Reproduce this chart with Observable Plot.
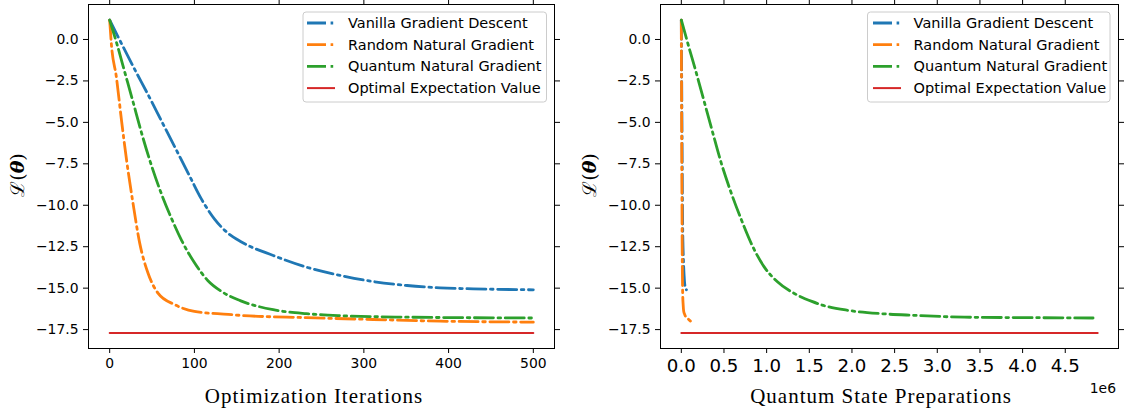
<!DOCTYPE html>
<html>
<head>
<meta charset="utf-8">
<script src="https://cdn.jsdelivr.net/npm/d3@7"></script>
<script src="https://cdn.jsdelivr.net/npm/@observablehq/plot@0.6"></script>
<style>
  html, body { margin: 0; padding: 0; background: #fff; }
  #wrap { display: flex; width: 1124px; height: 412px; overflow: hidden; }
  #wrap svg { overflow: visible; display: block; }
</style>
</head>
<body>
<div id="wrap"></div>
<script>
// ---------- data ----------
const seriesNames = ["Vanilla Gradient Descent", "Random Natural Gradient", "Quantum Natural Gradient", "Optimal Expectation Value"];
const seriesColors = ["#1f77b4", "#ff7f0e", "#2ca02c", "#d62728"];

const iterTicks = [0, 100, 200, 300, 400, 500];
const prepTicks = [0, 500000, 1000000, 1500000, 2000000, 2500000, 3000000, 3500000, 4000000, 4500000];
const lossTicks = [0, -2.5, -5, -7.5, -10, -12.5, -15, -17.5];

// left panel: loss vs optimization iterations
const vanillaByIter = [[0,1.17],[9,0.25],[30,-1.85],[45,-3.3],[61,-4.9],[77,-6.5],[93,-8.1],[108,-9.6],[124,-10.85],[140,-11.7],[155,-12.2],[193,-13.03],[232,-13.73],[272,-14.23],[311,-14.6],[351,-14.84],[390,-14.98],[429,-15.04],[500,-15.1]];
const randomByIter = [[0,1.17],[2,-0.28],[8,-2.3],[14,-4.9],[20,-7.3],[27.6,-9.9],[35.5,-12.3],[45.3,-14.1],[57,-15.3],[77,-16.0],[100,-16.4],[140,-16.58],[154,-16.64],[232,-16.78],[311,-16.89],[390,-16.99],[500,-17.05]];
const quantumByIter = [[0,1.17],[9,-0.35],[17.7,-1.95],[27.5,-3.75],[37.4,-5.6],[49.3,-7.6],[61,-9.3],[73,-10.8],[84.7,-12.1],[100.5,-13.5],[116,-14.55],[132,-15.2],[154,-15.75],[193,-16.3],[232,-16.54],[272,-16.66],[351,-16.75],[500,-16.8]];
const optimalByIter = [[0,-17.7],[500,-17.7]];

// right panel: loss vs quantum state preparations
const vanillaByPrep = [[0,1.17],[1080,0.25],[3600,-1.85],[5400,-3.3],[7320,-4.9],[9240,-6.5],[11160,-8.1],[12960,-9.6],[14880,-10.85],[16800,-11.7],[18600,-12.2],[23160,-13.03],[27840,-13.73],[32640,-14.23],[37320,-14.6],[42120,-14.84],[46800,-14.98],[51480,-15.04],[60000,-15.1]];
const randomByPrep = [[0,1.17],[560,-0.28],[2240,-2.3],[3920,-4.9],[5600,-7.3],[7730,-9.9],[9940,-12.3],[12680,-14.1],[15960,-15.3],[21560,-16.0],[28000,-16.4],[39200,-16.58],[43120,-16.64],[64960,-16.78],[87080,-16.89],[109200,-16.99],[140000,-17.05]];
const quantumByPrep = [[0,1.17],[77000,-0.25],[174000,-1.99],[271000,-3.8],[367000,-5.6],[465000,-7.4],[581000,-9.2],[698000,-10.8],[833000,-12.45],[969000,-13.7],[1123000,-14.6],[1317000,-15.3],[1530000,-15.8],[1650000,-16.02],[1957000,-16.34],[2344000,-16.54],[2733000,-16.64],[3314000,-16.75],[4088000,-16.78],[4826000,-16.8]];
const optimalByPrep = [[0,-17.7],[4880000,-17.7]];

// ---------- drawing ----------
const DASH = "19,4.6,2.6,4.6";
const LW = 2.8;
const fmt1 = d3.format(".1f");

function makePanel(cfg) {
  const lineMarks = cfg.series.map((data, i) => Plot.line(data, {
    x: d => d[0], y: d => d[1],
    stroke: seriesColors[i],
    strokeWidth: i === 3 ? 2 : LW,
    strokeDasharray: i === 3 ? null : DASH,
    curve: "monotone-x"
  }));
  const svg = Plot.plot({
    width: cfg.width, height: 412,
    marginLeft: cfg.marginLeft, marginRight: cfg.marginRight, marginTop: 4, marginBottom: 64,
    style: { fontFamily: "DejaVu Sans", fontSize: "13.9px", color: "#000", background: "transparent", overflow: "visible" },
    x: { domain: cfg.xDomain },
    y: { domain: [-18.64, 2.11] },
    marks: [
      Plot.axisX({ ticks: cfg.xTicks, tickFormat: cfg.xTickFormat, tickSize: 5, tickPadding: cfg.xTickPadding, label: null }),
      Plot.axisX({ anchor: "top", ticks: cfg.xTicks, tickFormat: () => "", tickSize: 5, label: null }),
      Plot.axisY({ ticks: lossTicks, tickFormat: fmt1, tickSize: 5, tickPadding: 5, label: null }),
      Plot.axisY({ anchor: "right", ticks: lossTicks, tickFormat: () => "", tickSize: 5, label: null }),
      ...lineMarks,
      Plot.frame({ stroke: "#000", strokeWidth: 1 })
    ]
  });
  const s = d3.select(svg);
  s.selectAll('g[aria-label="x-axis tick label"] text').attr("font-size", cfg.xTickFontSize);

  // x label
  s.append("text")
    .attr("x", cfg.xLabelX).attr("y", 403)
    .attr("text-anchor", "middle")
    .attr("font-family", "Liberation Serif, DejaVu Serif, serif")
    .attr("font-size", 21).attr("letter-spacing", 1).attr("fill", "#000")
    .text(cfg.xLabel);

  // y label  L(theta)
  const yl = s.append("text")
    .attr("transform", `translate(${cfg.yLabelX},175) rotate(-90)`)
    .attr("text-anchor", "middle")
    .attr("font-family", "DejaVu Serif, serif")
    .attr("font-size", 19).attr("fill", "#000");
  yl.append("tspan").text("ℒ");
  yl.append("tspan").text("(");
  yl.append("tspan").attr("font-weight", "bold").attr("font-style", "italic").text("θ");
  yl.append("tspan").text(")");

  if (cfg.offsetText) {
    s.append("text").attr("x", cfg.width - 8).attr("y", 393).attr("text-anchor", "end")
      .attr("font-family", "DejaVu Sans").attr("font-size", 13.9).attr("fill", "#000")
      .text(cfg.offsetText);
  }

  // legend
  const L = cfg.legend;
  const g = s.append("g").attr("text-anchor", "start");
  g.append("rect").attr("x", L.x0).attr("y", 12).attr("width", L.w).attr("height", 90)
    .attr("rx", 3).attr("fill", "#fff").attr("fill-opacity", 0.8).attr("stroke", "#cccccc").attr("stroke-width", 1);
  seriesNames.forEach((name, i) => {
    const yy = 23 + i * 21.7;
    g.append("line").attr("x1", L.sx).attr("x2", L.sx + 28).attr("y1", yy).attr("y2", yy)
      .attr("stroke", seriesColors[i]).attr("stroke-width", i === 3 ? 2 : LW)
      .attr("stroke-dasharray", i === 3 ? null : DASH);
    g.append("text").attr("x", L.tx).attr("y", yy).attr("dy", "0.35em")
      .attr("text-anchor", "start")
      .attr("font-family", "DejaVu Sans").attr("font-size", 14.5).attr("fill", "#000")
      .text(name);
  });
  return svg;
}

const wrap = document.getElementById("wrap");
wrap.appendChild(makePanel({
  width: 560, marginLeft: 88, marginRight: 6,
  xDomain: [-25, 525], xTicks: iterTicks, xTickFormat: d3.format("d"), xTickFontSize: 13.9, xTickPadding: 5,
  series: [vanillaByIter, randomByIter, quantumByIter, optimalByIter],
  xLabel: "Optimization Iterations", xLabelX: 314, yLabelX: 24,
  legend: { x0: 303, w: 243.5, sx: 307, tx: 348 }
}));
wrap.appendChild(makePanel({
  width: 564, marginLeft: 100, marginRight: 6,
  xDomain: [-244000, 5124000], xTicks: prepTicks, xTickFormat: d => fmt1(d / 1e6), xTickFontSize: 18.2, xTickPadding: 6,
  series: [vanillaByPrep, randomByPrep, quantumByPrep, optimalByPrep],
  xLabel: "Quantum State Preparations", xLabelX: 321, yLabelX: 36,
  offsetText: "1e6",
  legend: { x0: 307.5, w: 242.5, sx: 313, tx: 353.6 }
}));
</script>
</body>
</html>
